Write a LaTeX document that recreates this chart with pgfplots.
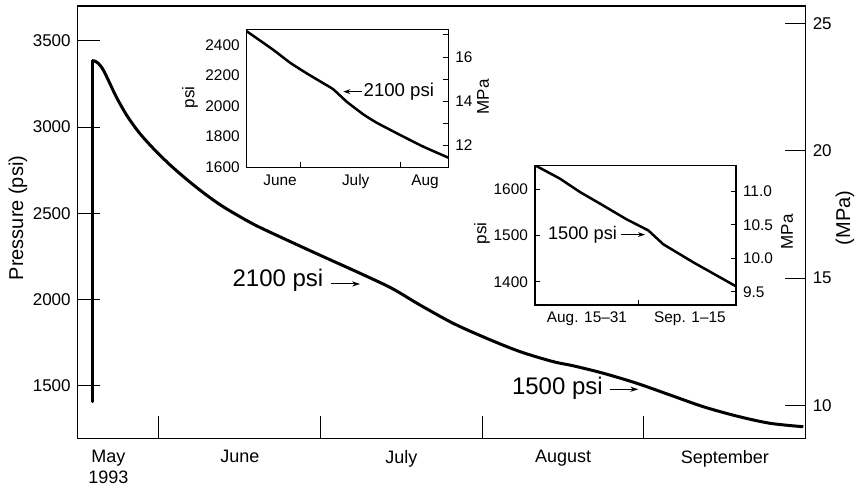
\documentclass[border=0pt]{standalone}
\usepackage{fontspec}
\setmainfont{Liberation Sans}
\usepackage{pgfplots}
\pgfplotsset{compat=1.18}
\usetikzlibrary{arrows.meta}
\pgfplotstableread{
x psi
0.590 3384
0.605 3382
0.627 3369
0.650 3343
0.669 3311
0.700 3250
0.741 3170
0.803 3068
0.875 2973
0.957 2886
1.060 2790
1.163 2705
1.276 2620
1.400 2538
1.585 2438
1.792 2346
2.018 2249
2.245 2153
2.441 2066
2.616 1969
2.821 1863
3.028 1776
3.234 1699
3.439 1641
3.563 1617
3.748 1574
3.955 1516
4.161 1448
4.367 1380
4.573 1326
4.779 1284
4.985 1264
}\maincurve
\pgfplotstableread{
x psi
0.467 2490
0.733 2368
0.900 2284
1.067 2214
1.233 2149
1.333 2109
1.467 2028
1.633 1945
1.767 1890
2.000 1810
2.233 1733
2.483 1661
}\insetone
\pgfplotstableread{
x psi
0.000 1652
0.242 1623
0.436 1594
0.629 1569
0.887 1535
1.097 1511
1.242 1481
1.532 1442
1.946 1390
}\insettwo
\begin{document}
\begin{tikzpicture}[x=1pt,y=1pt]
\path[use as bounding box] (0,0) rectangle (433,243.5);
\pgfplotsset{
  /pgf/number format/assume math mode=true,
  mainstyle/.style={
    at={(38.85pt,24.35pt)}, anchor=south west,
    scale only axis, width=364pt, height=216.15pt,
    xmin=0.5, xmax=5.0,
    tick align=inside, major tick length=11pt,
    tick style={line width=0.5pt, black},
  },
  insetstyle/.style={
    scale only axis, anchor=south west,
    tick align=inside, major tick length=2.6pt,
    tick style={line width=0.5pt, black},
    axis line style={line width=0.6pt},
    ticklabel style={font=\fontsize{7.7}{9}\selectfont},
  },
}
% ---------- main axis, psi ----------
\begin{axis}[mainstyle,
  ymin=1197, ymax=3701,
  axis line style={line width=0.75pt},
  xtick={1,2,3,4}, xticklabels={},
  extra x ticks={0.69,1.503,2.5,3.5,4.5},
  extra x tick labels={{May\\1993},June,July,August,September},
  extra x tick style={major tick length=0pt},
  xticklabel style={align=center, font=\fontsize{9}{10.2}\selectfont, yshift=-2.5pt},
  xtick pos=bottom,
  ytick={1500,2000,2500,3000,3500},
  yticklabels={1500,2000,2500,3000,3500},
  ytick pos=left,
  yticklabel style={font=\fontsize{8.5}{10}\selectfont},
]
\addplot[black, line width=1.5pt, line cap=round] coordinates {(0.590,1409) (0.590,3384)};
\addplot[black, line width=1.5pt, smooth, tension=0.5, line join=round] table[x=x,y=psi] {\maincurve};
\draw[line width=0.5pt, -{Stealth[length=4pt,width=2.6pt]}] (axis cs:2.065,2091) -- (axis cs:2.245,2091);
\node[font=\fontsize{12}{14}\selectfont] at (axis cs:1.738,2114) {2100 psi};
\draw[line width=0.5pt, -{Stealth[length=4pt,width=2.6pt]}] (axis cs:3.79,1481) -- (axis cs:3.965,1481);
\node[font=\fontsize{12}{14}\selectfont] at (axis cs:3.465,1487) {1500 psi};
\end{axis}
% ---------- main axis, MPa ----------
\begin{axis}[mainstyle,
  ymin=8.72, ymax=25.68,
  axis line style={draw=none},
  xtick=\empty,
  ytick={10,15,20,25}, yticklabels={10,15,20,25},
  ytick pos=right, yticklabel pos=right,
  major tick length=10.5pt,
  yticklabel style={font=\fontsize{8.5}{10}\selectfont},
]
\end{axis}
\node[rotate=90, font=\fontsize{10}{12}\selectfont] at (9,134.5) {Pressure (psi)};
\node[rotate=90, font=\fontsize{10}{12}\selectfont] at (422.5,134.5) {(MPa)};
% ---------- inset 1 ----------
\begin{axis}[insetstyle,
  at={(123.35pt,159.65pt)}, width=100.8pt, height=69.2pt,
  axis background/.style={fill=white},
  xmin=0.467, xmax=2.483, ymin=1595, ymax=2503,
  xtick={1,2}, xticklabels={},
  extra x ticks={0.8,1.557,2.25}, extra x tick labels={June,July,Aug},
  extra x tick style={major tick length=0pt},
  xtick pos=bottom,
  ytick={1600,1800,2000,2200,2400}, yticklabels={1600,1800,2000,2200,2400},
  ytick pos=left, ytick style={draw=none},
]
\addplot[black, line width=1.25pt, smooth, tension=0.3, line join=round] table[x=x,y=psi] {\insetone};
\draw[line width=0.5pt, {Stealth[length=3.5pt,width=2.4pt]}-] (axis cs:1.433,2094) -- (axis cs:1.62,2094) node[right, inner sep=0.6pt, font=\fontsize{9.3}{11}\selectfont] {2100 psi};
\end{axis}
\begin{axis}[insetstyle,
  at={(123.35pt,159.65pt)}, width=100.8pt, height=69.2pt,
  axis line style={draw=none},
  xmin=0.467, xmax=2.483, ymin=10.997, ymax=17.257,
  xtick=\empty,
  ytick={12,13,14,15,16,17}, yticklabels={12,,14,,16,},
  ytick pos=right, yticklabel pos=right,
]
\end{axis}
\node[rotate=90, font=\fontsize{8.5}{10}\selectfont] at (95,194.75) {psi};
\node[rotate=90, font=\fontsize{8.5}{10}\selectfont] at (241.5,195) {MPa};
% ---------- inset 2 ----------
\begin{axis}[insetstyle,
  at={(267.5pt,91pt)}, width=100.5pt, height=69.65pt,
  axis background/.style={fill=white},
  xmin=0, xmax=1.946, ymin=1349.6, ymax=1651.1,
  xtick={1}, xticklabels={},
  extra x ticks={0.503,1.5}, extra x tick labels={Aug. 15--31,Sep. 1--15},
  extra x tick style={major tick length=0pt},
  xtick pos=bottom,
  ytick={1400,1500,1600}, yticklabels={1400,1500,1600},
  ytick pos=left,
]
\addplot[black, line width=1.25pt, line join=round] table[x=x,y=psi] {\insettwo};
\draw[line width=0.5pt, -{Stealth[length=3.5pt,width=2.4pt]}] (axis cs:0.83,1502) -- (axis cs:1.065,1502);
\node[font=\fontsize{9.1}{11}\selectfont] at (axis cs:0.46,1502) {1500 psi};
\end{axis}
\begin{axis}[insetstyle,
  at={(267.5pt,91pt)}, width=100.5pt, height=69.65pt,
  axis line style={draw=none},
  xmin=0, xmax=1.946, ymin=9.305, ymax=11.384,
  xtick=\empty,
  ytick={9.5,10,10.5,11}, yticklabels={9.5,10.0,10.5,11.0},
  ytick pos=right, yticklabel pos=right,
]
\end{axis}
\node[rotate=90, font=\fontsize{8.5}{10}\selectfont] at (241,126.75) {psi};
\node[rotate=90, font=\fontsize{8.5}{10}\selectfont] at (393.5,127.5) {MPa};
\end{tikzpicture}
\end{document}
